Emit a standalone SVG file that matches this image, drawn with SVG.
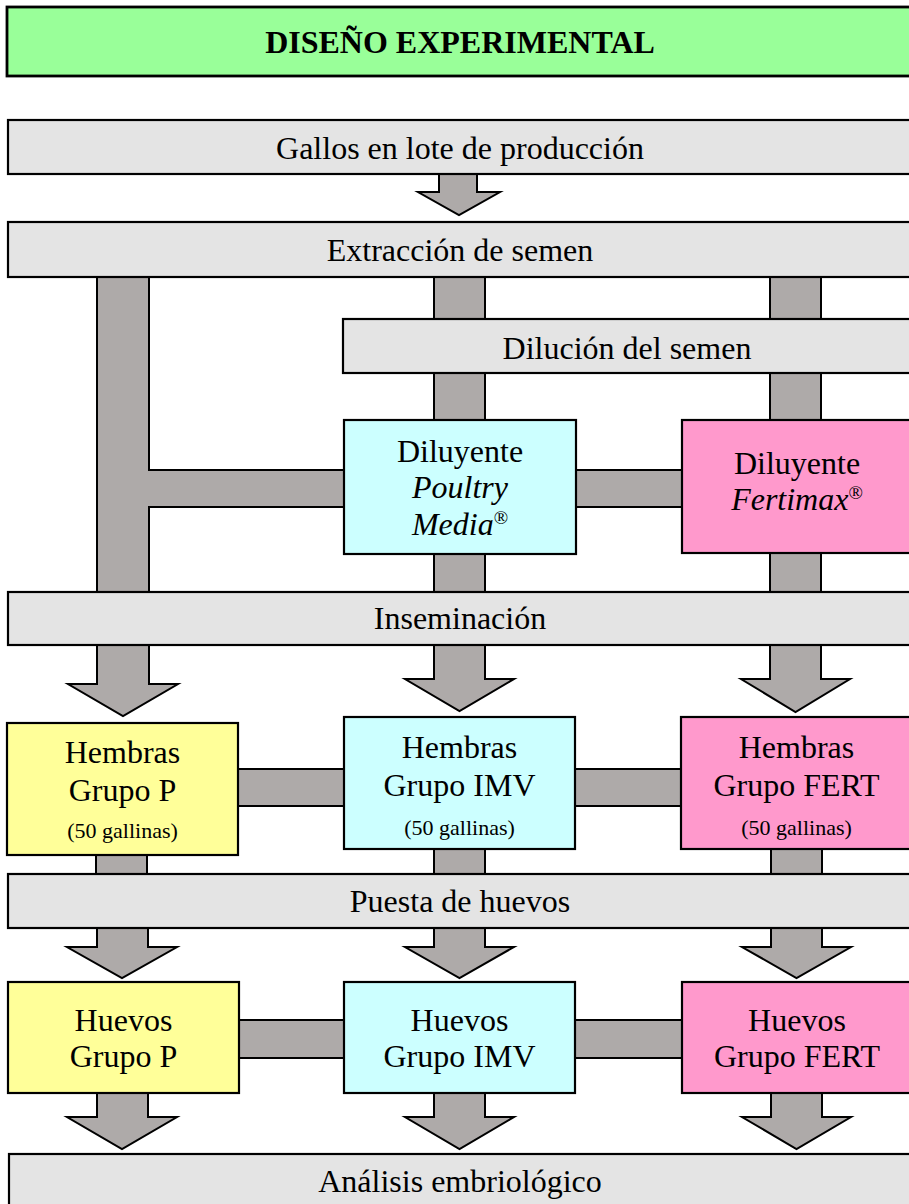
<svg xmlns="http://www.w3.org/2000/svg" width="909" height="1204" viewBox="0 0 909 1204">
<style>
.box{stroke:#000;stroke-width:2.2}
.grey{fill:#E4E4E4}
.green{fill:#99FF99;stroke-width:2.8}
.cyan{fill:#CCFFFF}
.pink{fill:#FF99CC}
.yellow{fill:#FFFF99}
.bar{fill:#AEAAA9;stroke:#000;stroke-width:2;stroke-linejoin:miter}
text{font-family:"Liberation Serif","Times New Roman",serif;font-size:32px;text-anchor:middle;fill:#000}
.title{font-weight:bold}
.it{font-style:italic}
.small{font-size:22px}
.sup{font-size:19px}
</style>
<rect width="909" height="1204" fill="#fff"/>
<g id="connectors">
  <!-- left L-shaped bar -->
  <polygon class="bar" points="97,270 149,270 149,470 350,470 350,507 149,507 149,600 97,600"/>
  <!-- middle & right vertical bars -->
  <rect class="bar" x="434" y="270" width="51" height="330"/>
  <rect class="bar" x="770" y="270" width="51" height="330"/>
  <rect class="bar" x="570" y="470" width="120" height="37"/>
  <!-- arrow gallos -> extraccion -->
  <polygon class="bar" points="439,168 477,168 477,192 500,192 459,215 418,192 439,192"/>
  <!-- inseminacion arrows -->
  <polygon class="bar" points="97,640 149,640 149,684 178,684 123,716 68,684 97,684"/>
  <polygon class="bar" points="434,640 485,640 485,679 514,679 459.5,711 405,679 434,679"/>
  <polygon class="bar" points="770,640 821,640 821,679 850,679 795.5,712 741,679 770,679"/>
  <!-- hembras horizontal bars -->
  <rect class="bar" x="230" y="769" width="120" height="37"/>
  <rect class="bar" x="570" y="769" width="120" height="37"/>
  <!-- hembras -> puesta -->
  <rect class="bar" x="96" y="845" width="51" height="35"/>
  <rect class="bar" x="434" y="840" width="51" height="40"/>
  <rect class="bar" x="771" y="840" width="51" height="40"/>
  <!-- puesta arrows -->
  <polygon class="bar" points="97,922 148,922 148,947 177,947 122,978 67,947 97,947"/>
  <polygon class="bar" points="434,922 485,922 485,947 514,947 459.5,978 405,947 434,947"/>
  <polygon class="bar" points="771,922 822,922 822,947 851,947 796.5,978 742,947 771,947"/>
  <!-- huevos horizontal bars -->
  <rect class="bar" x="230" y="1020" width="120" height="38"/>
  <rect class="bar" x="570" y="1020" width="120" height="38"/>
  <!-- huevos arrows -->
  <polygon class="bar" points="97,1087 148,1087 148,1117 177,1117 122,1149 67,1117 97,1117"/>
  <polygon class="bar" points="434,1087 485,1087 485,1117 514,1117 459.5,1149 405,1117 434,1117"/>
  <polygon class="bar" points="771,1087 822,1087 822,1117 851,1117 796.5,1149 742,1117 771,1117"/>
</g>
<g id="title">
  <rect class="box green" x="7" y="7" width="906" height="69"/>
  <text class="title" x="460" y="53">DISEÑO EXPERIMENTAL</text>
</g>
<g id="gallos">
  <rect class="box grey" x="8" y="120" width="906" height="54"/>
  <text x="460" y="159">Gallos en lote de producción</text>
</g>
<g id="extraccion">
  <rect class="box grey" x="8" y="222" width="906" height="55"/>
  <text x="460" y="261">Extracción de semen</text>
</g>
<g id="dilucion">
  <rect class="box grey" x="343" y="319" width="570" height="54"/>
  <text x="627" y="359">Dilución del semen</text>
</g>
<g id="poultry">
  <rect class="box cyan" x="344" y="420" width="232" height="134"/>
  <text x="460" y="462">Diluyente</text>
  <text class="it" x="460" y="498">Poultry</text>
  <text class="it" x="460" y="535">Media<tspan class="sup" dy="-11" font-style="normal">®</tspan></text>
</g>
<g id="fertimax">
  <rect class="box pink" x="682" y="420" width="231" height="133"/>
  <text x="797" y="474">Diluyente</text>
  <text class="it" x="797" y="510">Fertimax<tspan class="sup" dy="-11" font-style="normal">®</tspan></text>
</g>
<g id="inseminacion">
  <rect class="box grey" x="8" y="592" width="906" height="53"/>
  <text x="460" y="629">Inseminación</text>
</g>
<g id="hembras-p">
  <rect class="box yellow" x="7" y="723" width="231" height="132"/>
  <text x="122.5" y="763">Hembras</text>
  <text x="122.5" y="801">Grupo P</text>
  <text class="small" x="122.5" y="838">(50 gallinas)</text>
</g>
<g id="hembras-imv">
  <rect class="box cyan" x="344" y="717" width="231" height="132"/>
  <text x="459.5" y="758">Hembras</text>
  <text x="459.5" y="796">Grupo IMV</text>
  <text class="small" x="459.5" y="835">(50 gallinas)</text>
</g>
<g id="hembras-fert">
  <rect class="box pink" x="681" y="717" width="232" height="132"/>
  <text x="796.5" y="758">Hembras</text>
  <text x="796.5" y="796">Grupo FERT</text>
  <text class="small" x="796.5" y="835">(50 gallinas)</text>
</g>
<g id="puesta">
  <rect class="box grey" x="8" y="874" width="906" height="54"/>
  <text x="460" y="912">Puesta de huevos</text>
</g>
<g id="huevos-p">
  <rect class="box yellow" x="8" y="982" width="231" height="111"/>
  <text x="123.5" y="1031">Huevos</text>
  <text x="123.5" y="1067">Grupo P</text>
</g>
<g id="huevos-imv">
  <rect class="box cyan" x="344" y="982" width="231" height="111"/>
  <text x="459.5" y="1031">Huevos</text>
  <text x="459.5" y="1067">Grupo IMV</text>
</g>
<g id="huevos-fert">
  <rect class="box pink" x="682" y="982" width="231" height="111"/>
  <text x="797" y="1031">Huevos</text>
  <text x="797" y="1067">Grupo FERT</text>
</g>
<g id="analisis">
  <rect class="box grey" x="9" y="1154" width="905" height="60"/>
  <text x="460" y="1192">Análisis embriológico</text>
</g>
</svg>
